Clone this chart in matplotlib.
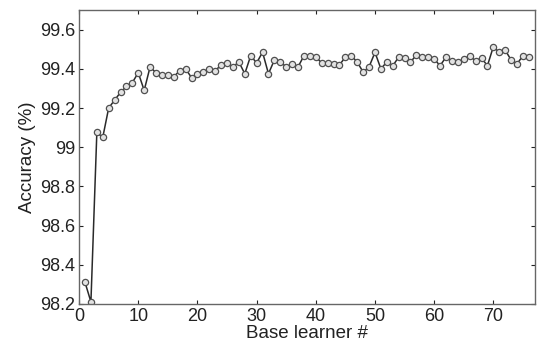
import matplotlib
matplotlib.use("Agg")
import matplotlib.pyplot as plt
from matplotlib.ticker import FuncFormatter

# accuracy of the ensemble after each base learner
learners = list(range(1, 77))
accuracy = [
    98.31, 98.21, 99.075, 99.05, 99.20, 99.24, 99.28, 99.31, 99.33, 99.38,
    99.29, 99.41, 99.38, 99.37, 99.37, 99.36, 99.39, 99.40, 99.355, 99.375,
    99.385, 99.40, 99.39, 99.42, 99.43, 99.41, 99.435, 99.375, 99.467, 99.43,
    99.485, 99.375, 99.445, 99.435, 99.41, 99.425, 99.41, 99.467, 99.467, 99.46,
    99.43, 99.43, 99.425, 99.42, 99.46, 99.467, 99.435, 99.383, 99.41, 99.484,
    99.40, 99.435, 99.415, 99.46, 99.455, 99.435, 99.47, 99.46, 99.462, 99.45,
    99.416, 99.46, 99.44, 99.435, 99.45, 99.467, 99.44, 99.455, 99.416, 99.513,
    99.484, 99.496, 99.445, 99.425, 99.467, 99.46,
]
x_ticks = [0, 10, 20, 30, 40, 50, 60, 70]
y_ticks = [98.2, 98.4, 98.6, 98.8, 99.0, 99.2, 99.4, 99.6]

plt.rcParams["font.family"] = ["Liberation Sans", "DejaVu Sans"]

fig = plt.figure(figsize=(5.38, 3.6), dpi=100)
ax = fig.add_axes([0.147, 0.156, 0.847, 0.816])

ax.plot(learners, accuracy, color="#2a2a2a", linewidth=1.1,
        marker="o", markersize=4.5, markerfacecolor="#e2e2e2",
        markeredgecolor="#505050", markeredgewidth=0.9)

ax.set_xlim(0, 77)
ax.set_ylim(98.2, 99.7)
ax.set_xticks(x_ticks)
ax.set_yticks(y_ticks)
ax.yaxis.set_major_formatter(FuncFormatter(lambda v, _: f"{v:g}"))
ax.tick_params(direction="in", top=True, right=True, length=3,
               labelsize=13, colors="#222222", pad=3)
for s in ax.spines.values():
    s.set_color("#666666")
    s.set_linewidth(1.0)

ax.set_xlabel("Base learner #", fontsize=13.5, color="#222222", labelpad=0)
ax.set_ylabel("Accuracy (%)", fontsize=13.5, color="#222222", labelpad=3)

fig.savefig("out.png", dpi=100)
